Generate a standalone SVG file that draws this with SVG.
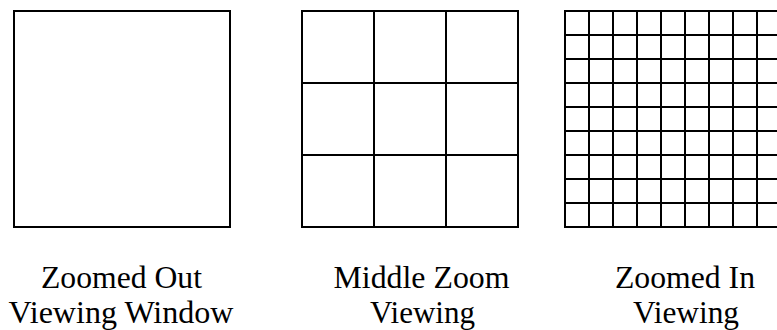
<svg xmlns="http://www.w3.org/2000/svg" width="777" height="330" viewBox="0 0 777 330">
<style>
.box{fill:#fff;stroke:#000;stroke-width:2}
.ln{stroke:#000;stroke-width:2;fill:none}
.lbl{font-family:'Liberation Serif','Times New Roman',Times,serif;font-size:31px;fill:#000;text-anchor:middle}
</style>
<rect width="777" height="330" fill="#fff"/>
<g id="zoomed-out">
<rect class="box" x="14" y="11" width="216" height="216"/>
<text class="lbl" x="121.5" y="288" textLength="161" lengthAdjust="spacingAndGlyphs">Zoomed Out</text>
<text class="lbl" x="121" y="323" textLength="225" lengthAdjust="spacingAndGlyphs">Viewing Window</text>
</g>
<g id="middle-zoom">
<rect class="box" x="302" y="11" width="216" height="216"/>
<path class="ln" d="M374 11V227M446 11V227M302 83H518M302 155H518"/>
<text class="lbl" x="421.5" y="288" textLength="176" lengthAdjust="spacingAndGlyphs">Middle Zoom</text>
<text class="lbl" x="422.5" y="323" textLength="105" lengthAdjust="spacingAndGlyphs">Viewing</text>
</g>
<g id="zoomed-in">
<rect class="box" x="565" y="11" width="216" height="216"/>
<path class="ln" d="M589 11V227M613 11V227M637 11V227M661 11V227M685 11V227M709 11V227M733 11V227M757 11V227M565 35H781M565 59H781M565 83H781M565 107H781M565 131H781M565 155H781M565 179H781M565 203H781"/>
<text class="lbl" x="685" y="288" textLength="140" lengthAdjust="spacingAndGlyphs">Zoomed In</text>
<text class="lbl" x="686" y="323" textLength="106" lengthAdjust="spacingAndGlyphs">Viewing</text>
</g>
<g id="connectors"/>
</svg>
